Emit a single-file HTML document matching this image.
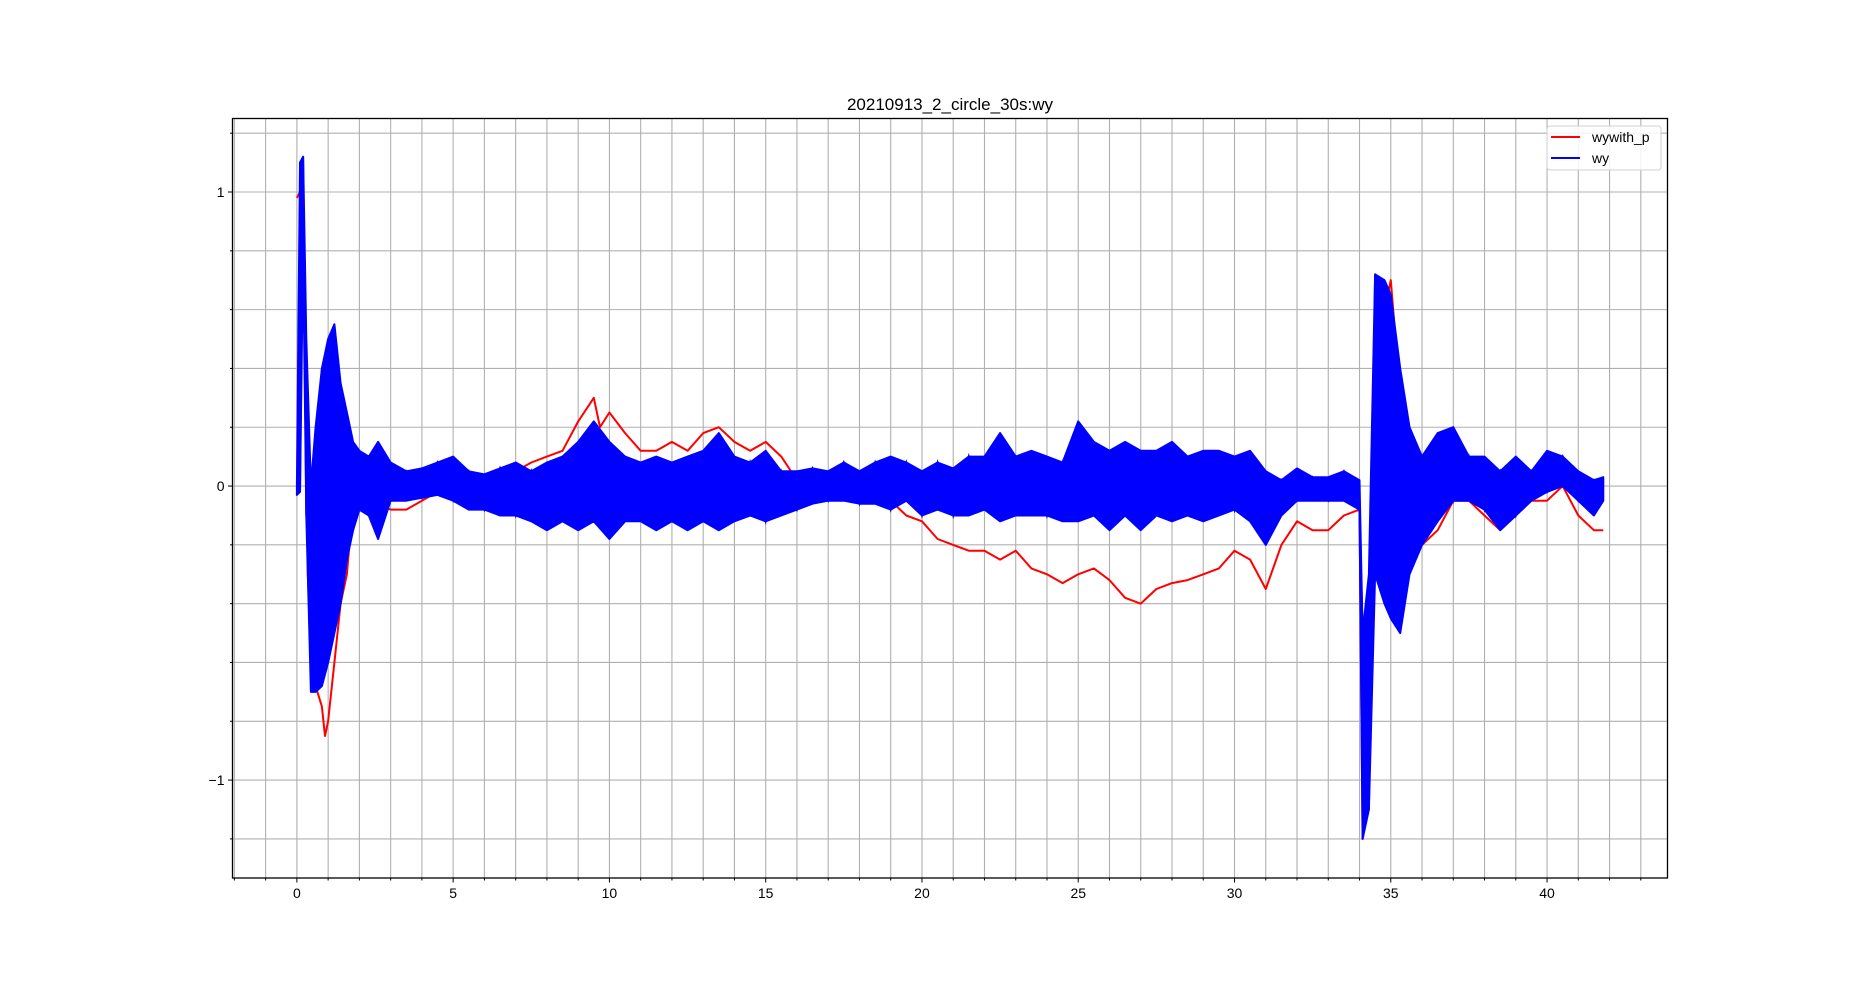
<!DOCTYPE html>
<html><head><meta charset="utf-8"><style>
html,body{margin:0;padding:0;background:#fff;}
svg{display:block;font-family:"Liberation Sans","DejaVu Sans",sans-serif;}
</style></head><body>
<svg id="chart" width="1853" height="986" viewBox="0 0 1853 986" xmlns="http://www.w3.org/2000/svg">
<rect width="1853" height="986" fill="#fff"/>
<text x="950" y="110" font-size="17" text-anchor="middle" fill="#000">20210913_2_circle_30s:wy</text>
<g id="grid"></g>
<g id="ticks"></g>
<g id="plot"></g>
<rect x="232.5" y="118.5" width="1435" height="759.5" fill="none" stroke="#000" stroke-width="1.3"/>
<g>
<rect x="1547" y="126" width="114" height="44" rx="3" fill="#fff" fill-opacity="0.85" stroke="#d0d0d0"/>
<line x1="1551" y1="137" x2="1580" y2="137" stroke="#ff0000" stroke-width="2"/>
<text x="1592" y="142" font-size="14">wywith_p</text>
<line x1="1551" y1="158" x2="1580" y2="158" stroke="#0000ff" stroke-width="2"/>
<text x="1592" y="163" font-size="14">wy</text>
</g>
</svg>
<script>
const xTicks=[0,5,10,15,20,25,30,35,40];
const yTicks=[1,0,-1];
const yTickLabels=["1","0","\u22121"];
const redT=[0,0.1,0.2,0.28,0.35,0.45,0.6,0.8,0.9,1.0,1.2,1.4,1.6,1.8,2,2.5,3,3.5,4,4.5,5,5.5,6,6.5,7,7.5,8,8.5,9,9.5,9.7,10,10.5,11,11.5,12,12.5,13,13.5,14,14.5,15,15.5,16,16.5,17,17.5,18,18.5,19,19.5,20,20.5,21,21.5,22,22.5,23,23.5,24,24.5,25,25.5,26,26.5,27,27.5,28,28.5,29,29.5,30,30.5,31,31.5,32,32.5,33,33.5,34,34.1,34.3,34.5,34.8,35,35.3,35.6,36,36.5,37,37.5,38,38.5,39,39.5,40,40.5,41,41.5,41.8];
const redV=[0.98,1.0,1.02,0.35,-0.3,-0.55,-0.68,-0.75,-0.85,-0.8,-0.6,-0.4,-0.3,-0.05,-0.05,-0.06,-0.08,-0.08,-0.05,-0.02,0.0,-0.02,-0.02,0.02,0.05,0.08,0.1,0.12,0.22,0.3,0.2,0.25,0.18,0.12,0.12,0.15,0.12,0.18,0.2,0.15,0.12,0.15,0.1,0.02,0.0,0.02,0.0,-0.02,-0.02,-0.05,-0.1,-0.12,-0.18,-0.2,-0.22,-0.22,-0.25,-0.22,-0.28,-0.3,-0.33,-0.3,-0.28,-0.32,-0.38,-0.4,-0.35,-0.33,-0.32,-0.3,-0.28,-0.22,-0.25,-0.35,-0.2,-0.12,-0.15,-0.15,-0.1,-0.08,-1.2,-0.6,0.5,0.6,0.7,0.3,-0.1,-0.2,-0.15,-0.05,-0.05,-0.1,-0.15,-0.1,-0.05,-0.05,0.0,-0.1,-0.15,-0.15];
const blueT=[0,0.1,0.2,0.3,0.45,0.6,0.8,1.0,1.2,1.4,1.6,1.8,2.0,2.3,2.6,3,3.5,4,4.5,5,5.5,6,6.5,7,7.5,8,8.5,9,9.5,10,10.5,11,11.5,12,12.5,13,13.5,14,14.5,15,15.5,16,16.5,17,17.5,18,18.5,19,19.5,20,20.5,21,21.5,22,22.5,23,23.5,24,24.5,25,25.5,26,26.5,27,27.5,28,28.5,29,29.5,30,30.5,31,31.5,32,32.5,33,33.5,34.0,34.1,34.3,34.5,34.8,35.0,35.3,35.6,36,36.5,37,37.5,38,38.5,39,39.5,40,40.5,41,41.5,41.8];
const blueHi=[0.0,1.1,1.12,0.5,0.0,0.2,0.4,0.5,0.55,0.35,0.25,0.15,0.12,0.1,0.15,0.08,0.05,0.06,0.08,0.1,0.05,0.04,0.06,0.08,0.05,0.08,0.1,0.15,0.22,0.15,0.1,0.08,0.1,0.08,0.1,0.12,0.18,0.1,0.08,0.12,0.05,0.05,0.06,0.05,0.08,0.05,0.08,0.1,0.08,0.05,0.08,0.06,0.1,0.1,0.18,0.1,0.12,0.1,0.08,0.22,0.15,0.12,0.15,0.12,0.12,0.15,0.1,0.12,0.12,0.1,0.12,0.05,0.02,0.06,0.03,0.03,0.05,0.02,-0.5,-0.3,0.72,0.7,0.65,0.4,0.2,0.1,0.18,0.2,0.1,0.1,0.05,0.1,0.05,0.12,0.1,0.05,0.02,0.03];
const blueLo=[-0.03,-0.02,0.8,-0.1,-0.7,-0.7,-0.68,-0.6,-0.5,-0.4,-0.25,-0.15,-0.08,-0.1,-0.18,-0.05,-0.05,-0.04,-0.03,-0.05,-0.08,-0.08,-0.1,-0.1,-0.12,-0.15,-0.12,-0.15,-0.12,-0.18,-0.12,-0.12,-0.15,-0.12,-0.15,-0.12,-0.15,-0.12,-0.1,-0.12,-0.1,-0.08,-0.06,-0.05,-0.05,-0.06,-0.06,-0.08,-0.05,-0.1,-0.08,-0.1,-0.1,-0.08,-0.12,-0.1,-0.1,-0.1,-0.12,-0.12,-0.1,-0.15,-0.1,-0.15,-0.1,-0.12,-0.1,-0.12,-0.1,-0.08,-0.12,-0.2,-0.1,-0.05,-0.05,-0.05,-0.05,-0.08,-1.2,-1.1,-0.3,-0.4,-0.45,-0.5,-0.3,-0.2,-0.12,-0.05,-0.05,-0.08,-0.15,-0.1,-0.05,-0.02,0.0,-0.05,-0.1,-0.05];

const NS="http://www.w3.org/2000/svg";
const L=232.5,R=1668,T=118.5,B=878;
const X0=-2.06,X1=43.87,Y0=-1.333,Y1=1.25;
const sx=v=>L+(v-X0)/(X1-X0)*(R-L);
const sy=v=>B-(v-Y0)/(Y1-Y0)*(B-T);
function mk(tag,attrs,parent){const e=document.createElementNS(NS,tag);for(const k in attrs)e.setAttribute(k,attrs[k]);parent.appendChild(e);return e;}
const grid=document.getElementById('grid'),ticks=document.getElementById('ticks'),plot=document.getElementById('plot');
for(let v=-2;v<=43;v++){const x=sx(v);
 const g=mk('line',{x1:x,x2:x,y1:T,y2:B,stroke:'#b0b0b0','stroke-width':1.1},grid);
 
 
 const major=v%5===0;
 mk('line',{x1:x,x2:x,y1:B,y2:B+(major?4.5:2.5),stroke:'#000','stroke-width':1},ticks);}
for(let i=-6;i<=6;i++){const v=i*0.2;const y=sy(v);
 const g=mk('line',{x1:L,x2:R,y1:y,y2:y,stroke:'#b0b0b0','stroke-width':1.1},grid);
 
 
 const major=Math.abs(i%5)===0;
 mk('line',{x1:L,x2:L-(major?4.5:2.5),y1:y,y2:y,stroke:'#000','stroke-width':1},ticks);}
xTicks.forEach(v=>{const t=mk('text',{x:sx(v),y:B+20,'font-size':14,'text-anchor':'middle'},ticks);t.textContent=String(v);
 
 });
yTicks.forEach((v,i)=>{const t=mk('text',{x:L-8,y:sy(v)+5,'font-size':14,'text-anchor':'end'},ticks);t.textContent=yTickLabels[i];
 
 });
// red series
let d='';redT.forEach((t,i)=>{d+=(i?'L':'M')+sx(t).toFixed(1)+' '+sy(redV[i]).toFixed(1);});
const red=mk('path',{d:d,fill:'none',stroke:'#ff0000','stroke-width':2,'stroke-linejoin':'round'},plot);


// blue band
let b='';blueT.forEach((t,i)=>{b+=(i?'L':'M')+sx(t).toFixed(1)+' '+sy(blueHi[i]).toFixed(1);});
for(let i=blueT.length-1;i>=0;i--){b+='L'+sx(blueT[i]).toFixed(1)+' '+sy(blueLo[i]).toFixed(1);}
b+='Z';
const band=mk('path',{d:b,fill:'#0000ff',stroke:'#0000ff','stroke-width':2,'stroke-linejoin':'round'},plot);


let z='';blueT.forEach((t,i)=>{z+=(i?'L':'M')+sx(t).toFixed(1)+' '+sy(i%2?blueLo[i]:blueHi[i]).toFixed(1);});
const zig=mk('path',{d:z,fill:'none',stroke:'#0000ff','stroke-width':2},plot);


</script>
</body></html>
